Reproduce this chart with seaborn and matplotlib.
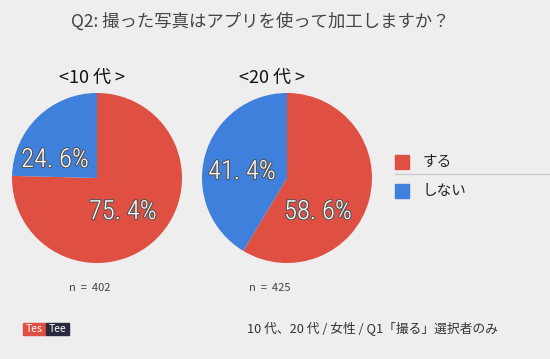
import matplotlib
matplotlib.use("Agg")
import matplotlib.pyplot as plt
import matplotlib.patheffects as pe
import seaborn as sns

groups = ["<10 代 >", "<20 代 >"]
answers = ["する", "しない"]
share_10s = [75.4, 24.6]
share_20s = [58.6, 41.4]
counts = ["n  =  402", "n  =  425"]

sns.set_style("white")
plt.rcParams['font.family'] = ['Noto Sans CJK JP', 'DejaVu Sans']

bg = "#eeeeee"
colors = ["#df4f42", "#3f80dd"]
W, H = 550, 359
num_font = ['Roboto Condensed', 'Liberation Sans Narrow', 'Roboto']

fig = plt.figure(figsize=(5.5, 3.59), dpi=100, facecolor=bg)

def px(x, y):
    return x / W, 1 - y / H

def pie_at(cx, cy, r, vals, label_pos):
    ax = fig.add_axes([(cx - r) / W, 1 - (cy + r) / H, 2 * r / W, 2 * r / H])
    ax.set_facecolor(bg)
    ax.pie(vals, colors=colors, startangle=90, counterclock=False,
           wedgeprops=dict(linewidth=0))
    ax.set_xlim(-1, 1)
    ax.set_ylim(-1, 1)
    ax.set_aspect("equal")
    ax.axis("off")
    for v, (lx, ly) in zip(vals, label_pos):
        label = f"{v}%".replace(".", ". ")
        fig.text(*px(lx, ly), label, color="white", fontsize=19,
                 family=num_font, weight="light", ha="center", va="center",
                 path_effects=[pe.withStroke(linewidth=1.6, foreground="#555555")])

pie_at(97, 178, 85, share_10s, [(123, 212), (55, 160)])
pie_at(287, 178, 85, share_20s, [(318, 212), (242, 172)])

# title and group headers
fig.text(*px(260, 22), "Q2: 撮った写真はアプリを使って加工しますか？",
         fontsize=12.5, color="#444444", ha="center", va="center")
for g, x in zip(groups, [92, 272]):
    fig.text(*px(x, 78), g, fontsize=13, color="#111111", ha="center", va="center")
for c, x in zip(counts, [90, 270]):
    fig.text(*px(x, 288), c, fontsize=8, color="#444444", ha="center", va="center")

# legend
for i, (a, col) in enumerate(zip(answers, colors)):
    y = 162 + i * 29
    fig.patches.append(plt.Rectangle(px(395, y + 7), 14 / W, 14 / H,
                                     transform=fig.transFigure, color=col))
    fig.text(*px(423, y), a, fontsize=10.5, color="#222222", va="center")
fig.add_artist(plt.Line2D([395 / W, 1], [1 - 174 / H] * 2,
                          transform=fig.transFigure, color="#cccccc", lw=1))

# logo
fig.patches.append(plt.Rectangle(px(23, 335), 23 / W, 12 / H,
                                 transform=fig.transFigure, color="#df4f42"))
fig.patches.append(plt.Rectangle(px(46, 335), 23 / W, 12 / H,
                                 transform=fig.transFigure, color="#2a2a3e"))
fig.text(*px(34.5, 329), "Tes", fontsize=7.5, color="white", ha="center", va="center")
fig.text(*px(57.5, 329), "Tee", fontsize=7.5, color="white", ha="center", va="center")

fig.text(*px(498, 329), "10 代、20 代 / 女性 / Q1「撮る」選択者のみ",
         fontsize=9.2, color="#333333", ha="right", va="center")

fig.savefig("out.png", dpi=100, facecolor=bg)
